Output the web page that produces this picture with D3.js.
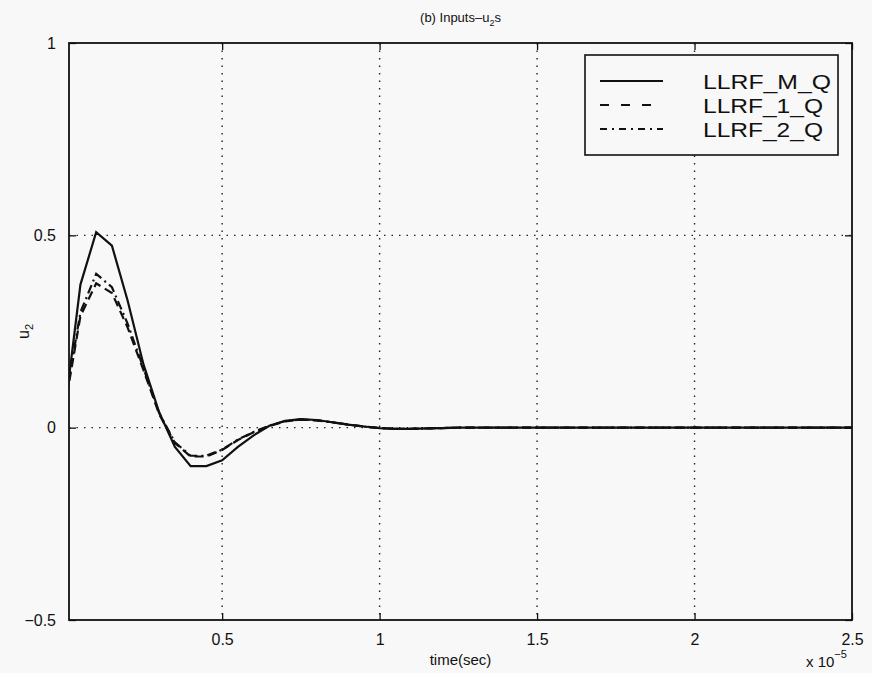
<!DOCTYPE html>
<html>
<head>
<meta charset="utf-8">
<script src="https://cdn.jsdelivr.net/npm/d3@7"></script>
<style>
  body { margin: 0; background: #f8f8f8; }
  text { font-family: "Liberation Sans", Arial, sans-serif; fill: #111; }
</style>
</head>
<body>
<svg id="chart"></svg>
<script>
// time in units of 1e-5 s
var timePts = [0, 0.05, 0.1, 0.15, 0.2, 0.25, 0.3, 0.35, 0.4, 0.45, 0.5, 0.55, 0.6, 0.65, 0.7,
  0.75, 0.8, 0.85, 0.9, 0.95, 1.0, 1.05, 1.1, 1.15, 1.2, 1.25, 1.5, 2.0, 2.5];

var llrfM = [0.04, 0.372, 0.508, 0.473, 0.33, 0.165, 0.04, -0.05, -0.10, -0.10, -0.085, -0.05, -0.02, 0.005, 0.018,
  0.022, 0.02, 0.014, 0.008, 0.003, -0.001, -0.003, -0.003, -0.002, -0.001, 0, 0, 0, 0];
var llrf1 = [0.05, 0.29, 0.375, 0.35, 0.26, 0.15, 0.035, -0.04, -0.075, -0.075, -0.058, -0.032, -0.012, 0.004, 0.016,
  0.021, 0.019, 0.014, 0.008, 0.003, -0.001, -0.003, -0.003, -0.002, -0.001, 0, 0, 0, 0];
var llrf2 = [0.06, 0.30, 0.40, 0.365, 0.27, 0.155, 0.038, -0.038, -0.073, -0.073, -0.057, -0.031, -0.011, 0.005, 0.017,
  0.021, 0.019, 0.014, 0.008, 0.003, -0.001, -0.003, -0.003, -0.002, -0.001, 0, 0, 0, 0];

var seriesNames = ['LLRF_M_Q', 'LLRF_1_Q', 'LLRF_2_Q'];
var xTicks = [0.5, 1, 1.5, 2, 2.5];
var yTicks = [-0.5, 0, 0.5, 1];
var xGrid = [0.5, 1, 1.5, 2];
var yGrid = [0, 0.5];

var W = 872, H = 673;
var padL = 69, padR = 852, padT = 43, padB = 620;

var svg = d3.select('#chart').attr('width', W).attr('height', H);

var x = d3.scaleLinear().domain([0.0137, 2.5]).range([padL, padR]);
var y = d3.scaleLinear().domain([-0.5, 1]).range([padB, padT]);

// grid
svg.append('g').selectAll('line').data(xGrid).enter().append('line')
  .attr('x1', d => x(d)).attr('x2', d => x(d))
  .attr('y1', padT).attr('y2', padB)
  .attr('stroke', '#222').attr('stroke-width', 1.4)
  .attr('stroke-dasharray', '1.5,6');
svg.append('g').selectAll('line').data(yGrid).enter().append('line')
  .attr('x1', padL).attr('x2', padR)
  .attr('y1', d => y(d)).attr('y2', d => y(d))
  .attr('stroke', '#222').attr('stroke-width', 1.4)
  .attr('stroke-dasharray', '1.5,6');

// curves
svg.append('clipPath').attr('id', 'clip').append('rect')
  .attr('x', padL).attr('y', padT).attr('width', padR - padL).attr('height', padB - padT);

var line = d3.line().x(d => x(d[0])).y(d => y(d[1]));
var styles = [
  { data: llrfM, dash: null },
  { data: llrf1, dash: '9,5' },
  { data: llrf2, dash: '9,4,2,4' }
];
var plot = svg.append('g').attr('clip-path', 'url(#clip)');
styles.forEach(function(s) {
  plot.append('path')
    .datum(timePts.map((t, i) => [t, s.data[i]]))
    .attr('d', line)
    .attr('fill', 'none')
    .attr('stroke', '#111')
    .attr('stroke-width', 2.2)
    .attr('stroke-dasharray', s.dash);
});

// axes with inward ticks
var fmt = d => (d < 0 ? '\u2212' : '') + Math.abs(d);
svg.append('g').attr('transform', 'translate(0,' + padB + ')')
  .call(d3.axisBottom(x).tickValues(xTicks).tickSize(-7).tickPadding(14).tickFormat(fmt))
  .call(g => g.select('.domain').remove());
svg.append('g').attr('transform', 'translate(0,' + padT + ')')
  .call(d3.axisTop(x).tickValues(xTicks).tickSize(-7).tickFormat(''))
  .call(g => g.select('.domain').remove());
svg.append('g').attr('transform', 'translate(' + padL + ',0)')
  .call(d3.axisLeft(y).tickValues(yTicks).tickSize(-7).tickPadding(13).tickFormat(fmt))
  .call(g => g.select('.domain').remove());
svg.append('g').attr('transform', 'translate(' + padR + ',0)')
  .call(d3.axisRight(y).tickValues(yTicks).tickSize(-7).tickFormat(''))
  .call(g => g.select('.domain').remove());

svg.selectAll('.tick line').attr('stroke', '#111').attr('stroke-width', 1.3);
svg.selectAll('.tick text')
  .style('font-family', '"Liberation Sans", Arial, sans-serif')
  .style('font-size', '16px').attr('fill', '#111');

// frame
svg.append('rect')
  .attr('x', padL).attr('y', padT).attr('width', padR - padL).attr('height', padB - padT)
  .attr('fill', 'none').attr('stroke', '#111').attr('stroke-width', 1.8);

// title
var title = svg.append('text').attr('x', (padL + padR) / 2).attr('y', 22)
  .attr('text-anchor', 'middle').style('font-size', '13px');
title.append('tspan').text('(b) Inputs\u2013u');
title.append('tspan').attr('dy', 4).style('font-size', '9px').text('2');
title.append('tspan').attr('dy', -4).text('s');

// x label
svg.append('text').attr('x', (padL + padR) / 2).attr('y', 665)
  .attr('text-anchor', 'middle').style('font-size', '15px').text('time(sec)');

// exponent
var ex = svg.append('text').attr('x', 806).attr('y', 667).style('font-size', '15px');
ex.append('tspan').text('x 10');
ex.append('tspan').attr('dy', -9).style('font-size', '11px').text('\u22125');

// y label
var yl = svg.append('text').attr('transform', 'translate(29,' + (padT + padB) / 2 + ') rotate(-90)')
  .attr('text-anchor', 'middle').style('font-size', '16px');
yl.append('tspan').text('u');
yl.append('tspan').attr('dy', 4).style('font-size', '11px').text('2');

// legend
var lgX = 585, lgY = 55, lgW = 253, lgH = 100;
var lg = svg.append('g');
lg.append('rect').attr('x', lgX).attr('y', lgY).attr('width', lgW).attr('height', lgH)
  .attr('fill', '#f8f8f8').attr('stroke', '#111').attr('stroke-width', 1.6);
var legendDash = [null, '9,12', '7,5,2,5'];
var legendLen = [128, 120, 120];
seriesNames.forEach(function(name, i) {
  var ry = 81 + i * 24;
  lg.append('line').attr('x1', 600).attr('x2', 663).attr('y1', ry).attr('y2', ry)
    .attr('stroke', '#111').attr('stroke-width', 1.8).attr('stroke-dasharray', legendDash[i]);
  lg.append('text').attr('x', 703).attr('y', ry + 8)
    .attr('textLength', legendLen[i]).attr('lengthAdjust', 'spacingAndGlyphs')
    .style('font-size', '21px').text(name);
});
</script>
</body>
</html>
